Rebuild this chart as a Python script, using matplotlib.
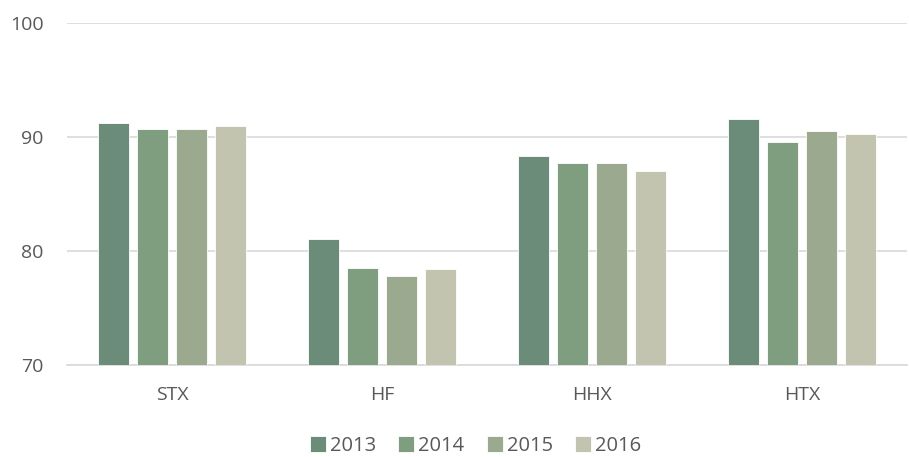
import numpy as np
import matplotlib.pyplot as plt

categories = ['STX', 'HF', 'HHX', 'HTX']
years = ['2013', '2014', '2015', '2016']
values = {
    '2013': [91.2, 81.05, 88.3, 91.55],
    '2014': [90.67, 78.5, 87.7, 89.55],
    '2015': [90.67, 77.8, 87.7, 90.5],
    '2016': [90.95, 78.4, 87.0, 90.25],
}
colors = ['#6a8c78', '#7f9e80', '#9baa8e', '#c2c4b0']

plt.rcParams['font.family'] = ['Open Sans', 'DejaVu Sans']

fig = plt.figure(figsize=(9.09, 4.57), dpi=100)
ax = fig.add_axes([0.0737, 0.2013, 0.924, 0.7484])

x = np.arange(len(categories))
bar_w = 0.148
step = 0.186
for i, yr in enumerate(years):
    offs = (i - 1.5) * step
    ax.bar(x + offs, values[yr], width=bar_w, bottom=0, color=colors[i],
           edgecolor='white', linewidth=0.6, label=yr, zorder=3)

ax.set_ylim(70, 100)
ax.set_xlim(-0.5, 3.5)
ax.set_yticks([70, 80, 90, 100])
ax.yaxis.grid(True, color='#d9d9d9', linewidth=1.2, zorder=0)
ax.set_xticks(x)
ax.set_xticklabels(categories)
ax.tick_params(axis='both', length=0, labelsize=14, colors='#595959')
ax.tick_params(axis='x', pad=15)
ax.tick_params(axis='y', pad=17)
for s in ['top', 'right', 'left']:
    ax.spines[s].set_visible(False)
ax.spines['bottom'].set_color('#d9d9d9')
ax.spines['bottom'].set_linewidth(1.2)

leg = fig.legend(loc='center', bbox_to_anchor=(0.523, 0.024), ncol=4,
                 frameon=False, fontsize=14.5, handlelength=0.8, handleheight=0.8,
                 handletextpad=0.2, columnspacing=1.1, borderpad=0)
for t in leg.get_texts():
    t.set_color('#595959')

fig.savefig('out.png', dpi=100)
